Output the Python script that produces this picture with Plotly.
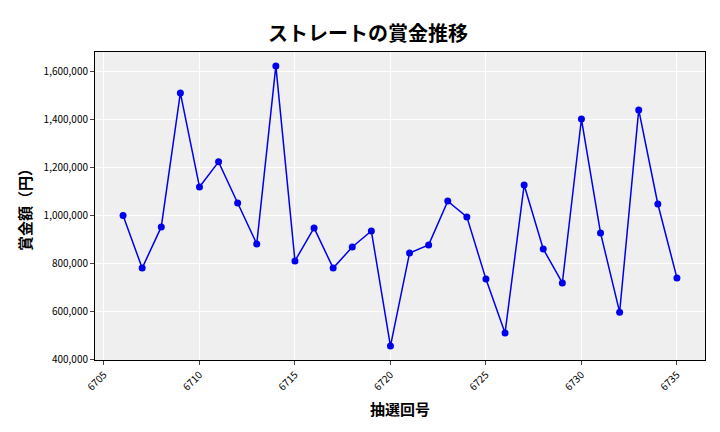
import plotly.graph_objects as go

draws = list(range(6706, 6736))
prizes = [1000000, 780000, 952000, 1512000, 1119000, 1224000, 1052000, 881000, 1625000, 810000,
          948000, 780000, 868000, 935000, 454000, 843000, 877000, 1060000, 994000, 734000,
          509000, 1127000, 860000, 718000, 1403000, 927000, 596000, 1441000, 1048000, 739000]

fig = go.Figure(go.Scatter(
    x=draws, y=prizes, mode="lines+markers",
    line=dict(color="#0000ee", width=1.5),
    marker=dict(color="#0000ee", size=7),
))

# the page body adds 8px offset, so margins compensate
fig.update_layout(
    width=720, height=432,
    margin=dict(l=87, r=23, t=44, b=80),
    paper_bgcolor="white", plot_bgcolor="#efefef",
    font=dict(family="Noto Sans CJK JP", color="black"),
    title=dict(text="<b>ストレートの賞金推移</b>", x=0.5, xanchor="center", y=0.955,
               font=dict(size=20)),
    showlegend=False,
)
fig.update_xaxes(
    range=[6704.53, 6736.47], tickvals=[6705, 6710, 6715, 6720, 6725, 6730, 6735],
    tickangle=-45, tickfont=dict(size=10), showgrid=True, gridcolor="white",
    zeroline=False, showline=True, linecolor="black", linewidth=1, mirror=True,
    ticks="outside", ticklen=4,
    title=dict(text="<b>抽選回号</b>", font=dict(size=15), standoff=12),
)
fig.update_yaxes(
    range=[396000, 1683000], tickvals=[400000, 600000, 800000, 1000000, 1200000, 1400000, 1600000],
    tickformat=",d", tickfont=dict(size=10), showgrid=True, gridcolor="white",
    zeroline=False, showline=True, linecolor="black", linewidth=1, mirror=True,
    ticks="outside", ticklen=4,
    title=dict(text="<b>賞金額（円）</b>", font=dict(size=15), standoff=8),
)

fig.write_html("out.html")
